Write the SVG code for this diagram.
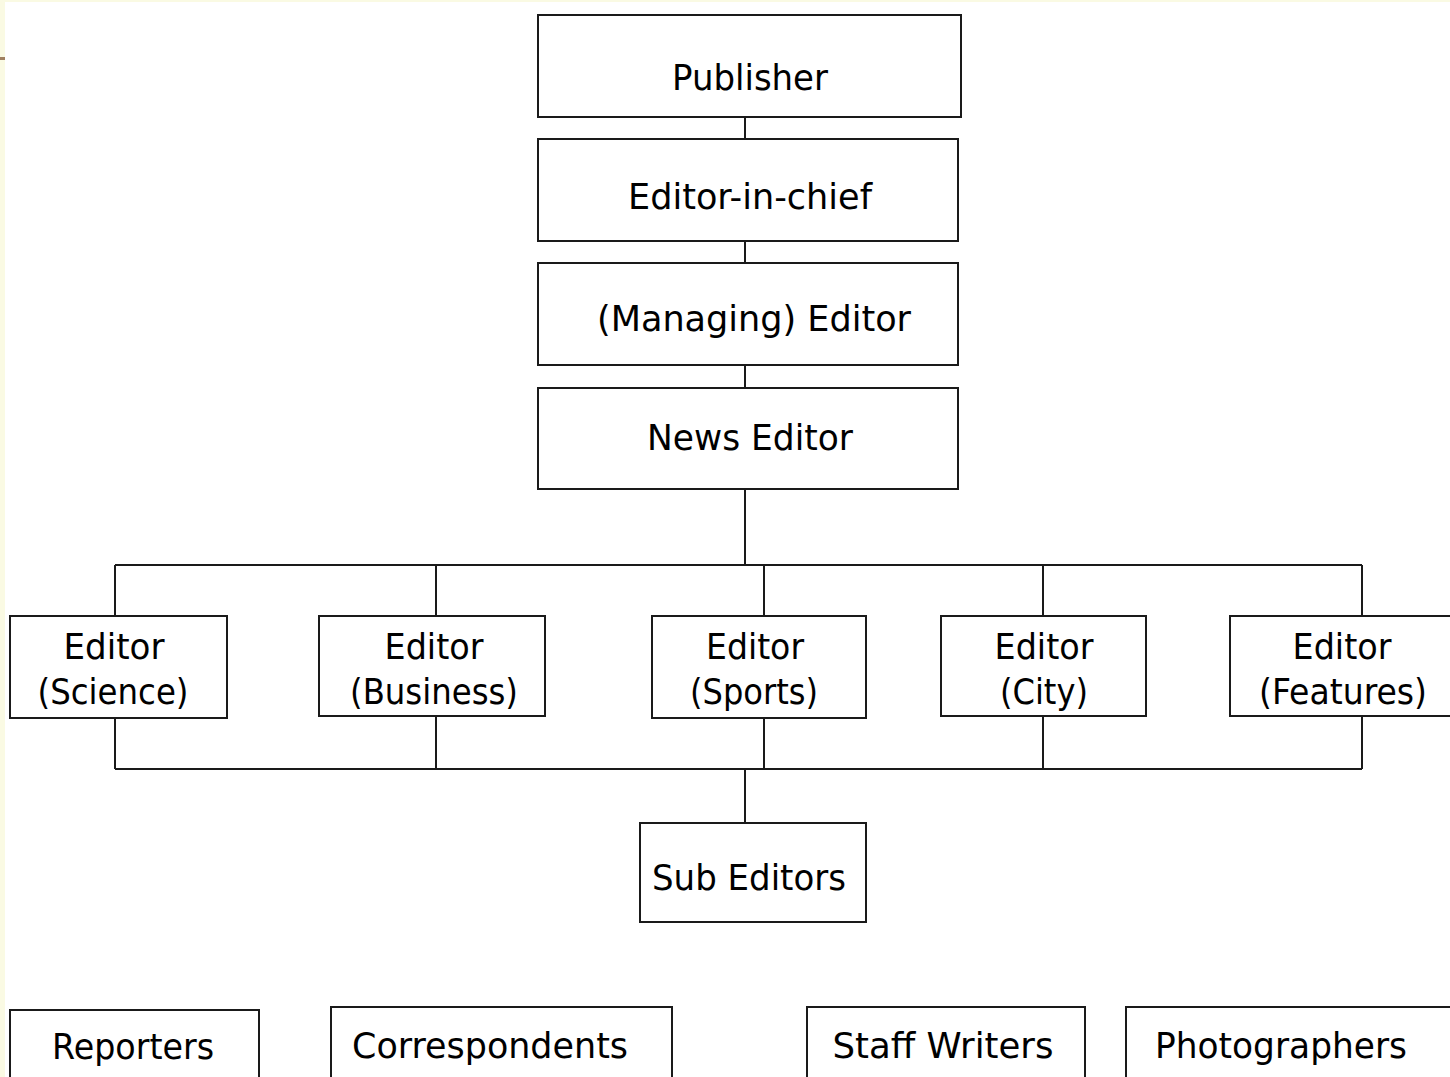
<svg xmlns="http://www.w3.org/2000/svg" width="1450" height="1077" viewBox="0 0 1450 1077">
<style>
.box{fill:#fff;stroke:#1a1a1a;stroke-width:2}
.ln{fill:none;stroke:#1a1a1a;stroke-width:2}
text{font-family:"DejaVu Sans","Liberation Sans",sans-serif;font-size:36px;fill:#000;text-anchor:middle}
</style>
<rect x="0" y="0" width="1450" height="1077" fill="#fff"/>
<rect x="0" y="0" width="1450" height="2" fill="#fafae3"/>
<rect x="0" y="0" width="5" height="1077" fill="#fafae3"/>
<rect x="0" y="57" width="5" height="3" fill="#a08060"/>
<g id="connectors">
<path class="ln" d="M745 117V139M745 241V263M745 365V388M745 489V565M115 565H1362M115 565V616M436 565V616M764 565V616M1043 565V616M1362 565V616"/>
<path class="ln" d="M115 718V769M436 716V769M764 718V769M1043 716V769M1362 716V769M115 769H1362M745 769V823"/>
</g>
<g id="publisher"><rect class="box" x="538" y="15" width="423" height="102"/><text x="750" y="90" textLength="156" lengthAdjust="spacingAndGlyphs">Publisher</text></g>
<g id="editor-in-chief"><rect class="box" x="538" y="139" width="420" height="102"/><text x="750" y="209" textLength="244" lengthAdjust="spacingAndGlyphs">Editor-in-chief</text></g>
<g id="managing-editor"><rect class="box" x="538" y="263" width="420" height="102"/><text x="754" y="331" textLength="314" lengthAdjust="spacingAndGlyphs">(Managing) Editor</text></g>
<g id="news-editor"><rect class="box" x="538" y="388" width="420" height="101"/><text x="750" y="450" textLength="206" lengthAdjust="spacingAndGlyphs">News Editor</text></g>
<g id="editor-science"><rect class="box" x="10" y="616" width="217" height="102"/><text x="114" y="659" textLength="101" lengthAdjust="spacingAndGlyphs">Editor</text><text x="113" y="704" textLength="151" lengthAdjust="spacingAndGlyphs">(Science)</text></g>
<g id="editor-business"><rect class="box" x="319" y="616" width="226" height="100"/><text x="434" y="659" textLength="99" lengthAdjust="spacingAndGlyphs">Editor</text><text x="434" y="704" textLength="168" lengthAdjust="spacingAndGlyphs">(Business)</text></g>
<g id="editor-sports"><rect class="box" x="652" y="616" width="214" height="102"/><text x="755" y="659" textLength="98" lengthAdjust="spacingAndGlyphs">Editor</text><text x="754" y="704" textLength="128" lengthAdjust="spacingAndGlyphs">(Sports)</text></g>
<g id="editor-city"><rect class="box" x="941" y="616" width="205" height="100"/><text x="1044" y="659" textLength="99" lengthAdjust="spacingAndGlyphs">Editor</text><text x="1044" y="704" textLength="88" lengthAdjust="spacingAndGlyphs">(City)</text></g>
<g id="editor-features"><rect class="box" x="1230" y="616" width="230" height="100"/><text x="1342" y="659" textLength="99" lengthAdjust="spacingAndGlyphs">Editor</text><text x="1343" y="704" textLength="168" lengthAdjust="spacingAndGlyphs">(Features)</text></g>
<g id="sub-editors"><rect class="box" x="640" y="823" width="226" height="99"/><text x="749" y="890" textLength="194" lengthAdjust="spacingAndGlyphs">Sub Editors</text></g>
<g id="reporters"><rect class="box" x="10" y="1010" width="249" height="80"/><text x="133" y="1059" textLength="162" lengthAdjust="spacingAndGlyphs">Reporters</text></g>
<g id="correspondents"><rect class="box" x="331" y="1007" width="341" height="80"/><text x="490" y="1058" textLength="276" lengthAdjust="spacingAndGlyphs">Correspondents</text></g>
<g id="staff-writers"><rect class="box" x="807" y="1007" width="278" height="80"/><text x="943" y="1058" textLength="221" lengthAdjust="spacingAndGlyphs">Staff  Writers</text></g>
<g id="photographers"><rect class="box" x="1126" y="1007" width="334" height="80"/><text x="1281" y="1058" textLength="252" lengthAdjust="spacingAndGlyphs">Photographers</text></g>
</svg>
